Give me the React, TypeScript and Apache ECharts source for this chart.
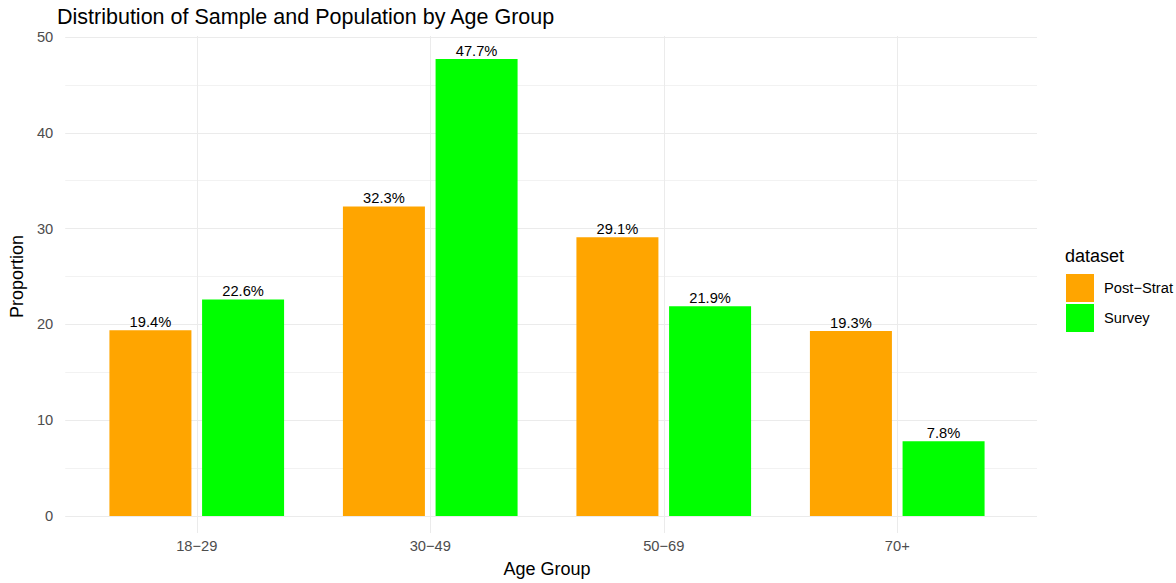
import React, { useEffect, useRef } from "react";
import * as echarts from "echarts";

const categories = ["18−29", "30−49", "50−69", "70+"];
const postStrat = [19.4, 32.3, 29.1, 19.3];
const survey = [22.6, 47.7, 21.9, 7.8];
const seriesNames = ["Post−Strat", "Survey"];
const yTicks = { min: 0, max: 50, interval: 10 };

const FONT = "Liberation Sans, Arial, Helvetica, sans-serif";

export default function App() {
  const ref = useRef<HTMLDivElement>(null);
  useEffect(() => {
    if (!ref.current) return;
    const chart = echarts.init(ref.current, null, { renderer: "svg" });
    const labelOpt = {
      show: true,
      position: "top",
      distance: 1,
      fontSize: 14.7,
      color: "#000",
      fontFamily: FONT,
      formatter: (p: any) => Number(p.value).toFixed(1) + "%",
    };
    chart.setOption({
      animation: false,
      backgroundColor: "#fff",
      textStyle: { fontFamily: FONT },
      title: [
        {
          text: "Distribution of Sample and Population by Age Group",
          left: 57,
          top: 6,
          padding: 0,
          textStyle: { fontSize: 21.5, fontWeight: "normal", color: "#000", fontFamily: FONT },
        },
        {
          text: "dataset",
          left: 1065,
          top: 247,
          padding: 0,
          textStyle: { fontSize: 18, fontWeight: "normal", color: "#000", fontFamily: FONT },
        },
      ],
      legend: {
        orient: "vertical",
        left: 1066,
        top: 274,
        padding: 0,
        itemWidth: 28,
        itemHeight: 28,
        itemGap: 2,
        icon: "rect",
        data: seriesNames,
        textStyle: { fontSize: 14.7, color: "#000", fontFamily: FONT, padding: [0, 0, 0, 5] },
      },
      grid: [
        { left: 57, right: 139, top: 37, bottom: 67 },
        { left: 80, right: 162, top: 37, bottom: 67 },
        { left: 80, right: 162, top: 36, bottom: 44 },
      ],
      xAxis: [
        { type: "value", gridIndex: 0, show: false, min: 0, max: 1 },
        {
          type: "category",
          gridIndex: 1,
          data: categories,
          show: false,
        },
        {
          type: "category",
          gridIndex: 2,
          data: categories,
          axisLine: { show: false, onZero: false },
          axisTick: { show: false },
          splitLine: { show: false },
          axisLabel: { fontSize: 14.7, color: "#4d4d4d", margin: 5, fontFamily: FONT },
          name: "Age Group",
          nameLocation: "middle",
          nameGap: 27,
          nameTextStyle: { fontSize: 18, color: "#000", fontFamily: FONT },
        },
      ],
      yAxis: [
        {
          type: "value",
          gridIndex: 0,
          min: yTicks.min,
          max: yTicks.max,
          interval: yTicks.interval,
          axisLine: { show: false },
          axisTick: { show: false },
          axisLabel: { fontSize: 14.7, color: "#4d4d4d", margin: 12, fontFamily: FONT },
          splitLine: { show: true, lineStyle: { color: "#ebebeb", width: 1 } },
          minorTick: { show: false, splitNumber: 2 },
          minorSplitLine: { show: true, lineStyle: { color: "#f2f2f2", width: 1 } },
          name: "Proportion",
          nameLocation: "middle",
          nameGap: 33,
          nameRotate: 90,
          nameTextStyle: { fontSize: 18, color: "#000", fontFamily: FONT },
        },
        {
          type: "value",
          gridIndex: 1,
          min: yTicks.min,
          max: yTicks.max,
          show: false,
          splitLine: { show: false },
        },
        {
          type: "value",
          gridIndex: 2,
          min: 0,
          max: 1,
          show: false,
          splitLine: { show: false },
        },
      ],
      series: [
        {
          name: "grid-v",
          type: "line",
          xAxisIndex: 2,
          yAxisIndex: 2,
          data: categories.map(() => null),
          showSymbol: false,
          silent: true,
          z: 0,
          lineStyle: { opacity: 0 },
          markLine: {
            silent: true,
            symbol: ["none", "none"],
            label: { show: false },
            lineStyle: { color: "#ebebeb", type: "solid", width: 1 },
            data: categories.map((c) => ({ xAxis: c })),
          },
        },
        {
          name: seriesNames[0],
          type: "bar",
          xAxisIndex: 1,
          yAxisIndex: 1,
          data: postStrat,
          barWidth: 82,
          barGap: "13%",
          z: 3,
          itemStyle: { color: "#FFA500" },
          label: labelOpt,
        },
        {
          name: seriesNames[1],
          type: "bar",
          xAxisIndex: 1,
          yAxisIndex: 1,
          data: survey,
          barWidth: 82,
          barGap: "13%",
          z: 3,
          itemStyle: { color: "#00FF00" },
          label: labelOpt,
        },
      ],
    });
    return () => chart.dispose();
  }, []);
  return (
    <div
      ref={ref}
      style={{ width: 1176, height: 583, position: "absolute", left: 0, top: 0 }}
    />
  );
}
